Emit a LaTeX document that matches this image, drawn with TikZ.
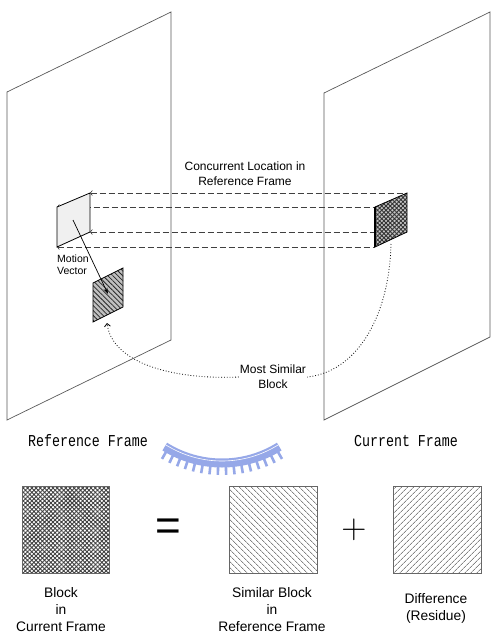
\documentclass[tikz,border=0pt]{standalone}
\usepackage{fontspec}
\setmainfont{Liberation Sans}
\setmonofont{Liberation Mono}
\usetikzlibrary{arrows.meta,patterns.meta}
\definecolor{framegray}{gray}{0.35}
\definecolor{logoblue}{RGB}{150,168,232}
\tikzset{
  frame/.style={draw=framegray,line width=0.7pt},
  blk/.style={draw=black,line width=0.8pt},
  guide/.style={draw=black!75,line width=0.6pt,dash pattern=on 6pt off 3pt,
    {Straight Barb[length=2pt,width=5pt]}-},
  lbl/.style={align=center,inner sep=1pt,font=\fontsize{12}{15}\selectfont},
  caption/.style={align=center,inner sep=0pt,font=\fontsize{13.8}{17}\selectfont},
  framelbl/.style={inner sep=0pt,font=\ttfamily\fontsize{13.3}{15}\selectfont},
}
\begin{document}
\begin{tikzpicture}[x=1pt,y=-1pt]
\useasboundingbox (0,0) rectangle (494,643);
% the two frames
\draw[frame] (7,420)--(7,92)--(171,12)--(171,340)--cycle;
\draw[frame] (324,420)--(324,93)--(490,12)--(490,337)--cycle;
\node[framelbl] (reflbl) at (88,441) {\scalebox{1}[1.25]{Reference Frame}};
\node[framelbl] (curlbl) at (406,441) {\scalebox{1}[1.25]{Current Frame}};
% block corners
\coordinate (a1) at (57,207); \coordinate (a2) at (90,193);
\coordinate (a3) at (90,232); \coordinate (a4) at (57,247);
\coordinate (b1) at (375,207); \coordinate (b2) at (407,193);
\coordinate (b3) at (407,232); \coordinate (b4) at (375,247);
\coordinate (c1) at (93,283); \coordinate (c2) at (123,268);
\coordinate (c3) at (123,307); \coordinate (c4) at (93,322);
% projection of the current block
\draw[guide] (a2)--(b2);
\draw[guide] (a1)--(b1);
\draw[guide] (a3)--(b3);
\draw[guide] (a4)--(b4);
\node[lbl] (conc) at (245,174) {Concurrent Location in\\Reference Frame};
% blocks
\draw[blk,preaction={fill=white},pattern={Dots[distance=2pt,radius=0.4pt]},pattern color=black!70]
  (a1)--(a2)--(a3)--(a4)--cycle;
\draw[blk,preaction={fill=gray!45},pattern={Hatch[angle=45,distance=3pt,line width=0.9pt]},pattern color=black!80]
  (b1)--(b2)--(b3)--(b4)--cycle;
\draw[line width=1.4pt] (b1)--(b4);
\draw[blk,preaction={fill=gray!50},pattern={Lines[angle=-45,distance=3.5pt,line width=0.8pt]},pattern color=black!85]
  (c1)--(c2)--(c3)--(c4)--cycle;
\coordinate (refc) at (73,220);
\coordinate (simc) at (108,294);
\draw[line width=0.7pt,-{Stealth[length=6pt,width=4pt]}] (refc)--(simc);
\node[anchor=north west,align=left,inner sep=0pt,font=\fontsize{10.5}{12}\selectfont] (mv) at (57,255) {Motion\\Vector};
% search path
\node[lbl] (most) at (273,377) {Most Similar\\Block};
\coordinate (curbot) at (391,244);
\coordinate (simbot) at (107,323);
\draw[dotted,line width=0.8pt] (curbot) .. controls (389,320) and (355,372) .. (most.east);
\draw[dotted,line width=0.8pt,-{Straight Barb[length=3pt,width=6pt]}] (most.west) .. controls (170,380) and (112,362) .. (simbot);
% logo
\begin{scope}[logoblue]
\draw[line width=9pt] (222,355) ++(58:108) arc[start angle=58,end angle=122,radius=108];
\draw[white,line width=0.6pt] (222,355) ++(58:106) arc[start angle=58,end angle=122,radius=106];
\foreach \a in {60,64,...,120}
  \draw[line width=2.6pt] (222,355) ++(\a:111) -- ++(\a:9);
\end{scope}
% decomposition
\draw[draw=black!60,line width=0.6pt,preaction={fill=white},pattern={Hatch[angle=45,distance=3pt,line width=0.9pt]},pattern color=black!75]
  (22,486) rectangle (109,573);
\draw[draw=black!60,line width=0.6pt,pattern={Lines[angle=-45,distance=4pt,line width=0.6pt]},pattern color=black!75]
  (229,486) rectangle (317,573);
\draw[draw=black!60,line width=0.6pt,pattern={Lines[angle=45,distance=4pt,line width=0.6pt]},pattern color=black!75]
  (393,486) rectangle (481,573);
\node[inner sep=0pt,font=\fontsize{44}{44}\selectfont] (eq) at (168,530) {=};
\node[inner sep=0pt,font=\fontsize{24.88}{26}\selectfont] (plus) at (354,530) {\scalebox{1.4}{$+$}};
\node[caption] (cap1) at (61,610) {Block\\in\\Current Frame};
\node[caption] (cap2) at (272,610) {Similar Block\\in\\Reference Frame};
\node[caption] (cap3) at (436,608) {Difference\\(Residue)};
\end{tikzpicture}
\end{document}
